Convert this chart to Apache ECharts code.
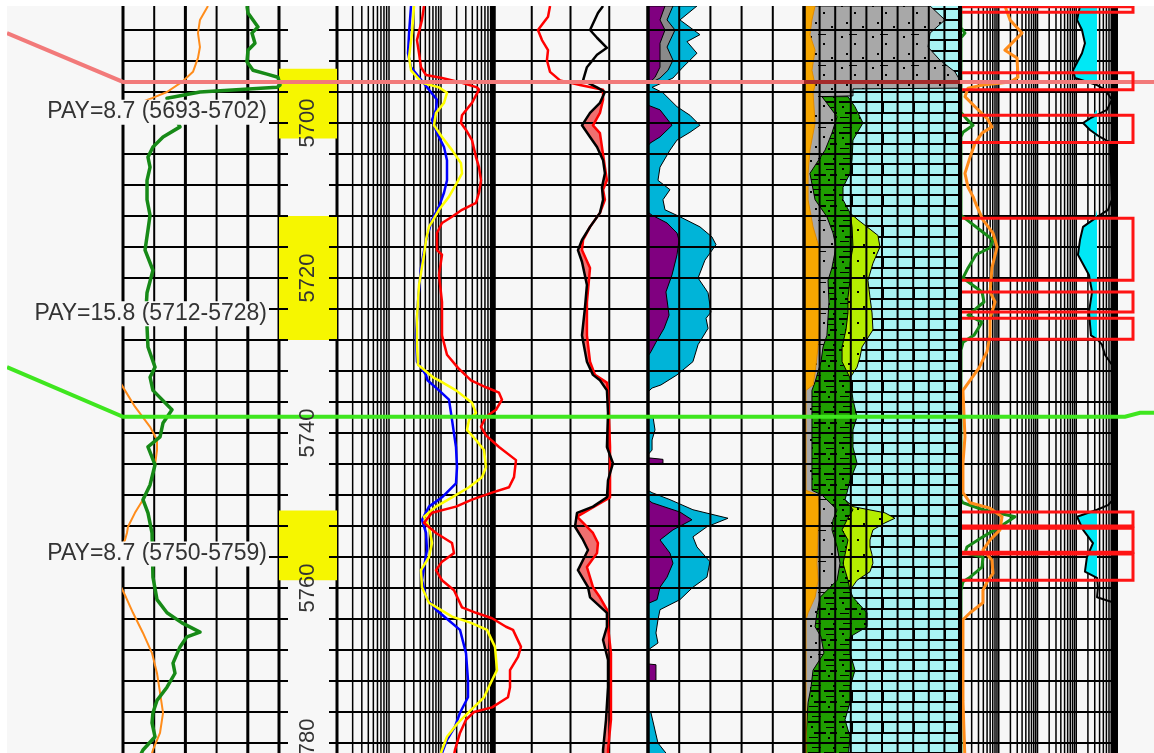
<!DOCTYPE html>
<html>
<head>
<meta charset="utf-8">
<title>Well log panel 5684-5782 ft</title>
<script src="https://cdn.jsdelivr.net/npm/echarts@6.0.0/dist/echarts.min.js"></script>
<style>
  html, body { margin: 0; padding: 0; background: #ffffff; }
  #chart { width: 1154px; height: 753px; }
</style>
</head>
<body>
<div id="chart"></div>
<script>
// ---------------- depth annotations ----------------
const depthLabels = [5700, 5720, 5740, 5760, 5780];
const payTops = [5693, 5712, 5750];
const payBottoms = [5702, 5728, 5759];
const payNet = [8.7, 15.8, 8.7];

// correlation tops: depth here, depth at left neighbour, depth at right neighbour
const topDepths = [5694.7, 5737.9];
const topLeftDepths = [5688.4, 5731.5];
const topRightDepths = [5694.7, 5737.4];
const topColors = ['#f27a7a', '#3fe61f'];
const topLithColors = ['#a52a2a', null];

// tested intervals shown in track 7
const testTops = [5685.0, 5693.5, 5699.0, 5712.3, 5721.8, 5725.2, 5750.2, 5752.3, 5755.6];
const testBottoms = [5685.7, 5695.7, 5702.5, 5720.3, 5724.4, 5727.9, 5752.0, 5755.4, 5759.0];

// ---------------- track 1 : gamma ray (API) and SP ----------------
const grCurve = [[5684.9,119.2],[5685.8,120.2],[5687.6,129.8],[5688.4,124.0],[5689.7,126.9],[5690.6,120.2],[5692.1,119.2],[5693.2,125.0],[5693.7,138.5],[5694.1,149.0],[5695.1,151.0],[5695.4,148.1],[5696.0,74.0],[5696.8,42.3],[5698.6,47.1],[5700.5,54.8],[5701.8,38.5],[5703.1,28.8],[5704.4,24.0],[5705.7,26.0],[5707.4,23.1],[5709.9,23.1],[5711.9,26.0],[5713.8,24.0],[5716.4,21.2],[5719.0,28.8],[5721.9,23.1],[5724.1,22.1],[5726.3,23.1],[5728.9,24.0],[5731.5,30.8],[5732.8,26.0],[5734.5,28.8],[5737.0,47.1],[5738.7,38.5],[5740.5,35.6],[5741.8,24.0],[5744.1,30.8],[5746.7,26.0],[5748.6,19.2],[5750.3,24.0],[5752.9,27.9],[5758.6,28.8],[5761.5,32.7],[5763.2,42.3],[5764.5,56.7],[5765.7,74.0],[5766.3,61.5],[5767.6,54.8],[5769.7,48.1],[5771.0,50.0],[5772.8,42.3],[5774.5,32.7],[5776.1,28.8],[5777.4,27.9],[5779.2,30.8],[5780.9,19.2],[5782.2,14.4]];
const spCurve = [[5684.9,81.7],[5686.7,74.0],[5688.4,72.1],[5690.2,74.0],[5691.6,72.1],[5693.4,67.3],[5694.7,56.7],[5696.0,42.3],[5696.8,27.9],[5697.5,13.5],[5698.3,0],[5699.5,-15],[5715,-30],[5730,-22],[5732.3,-8],[5734.5,1.9],[5736.6,11.5],[5739.2,26.0],[5740.9,32.7],[5742.2,32.7],[5744.1,30.8],[5746.7,26.0],[5748.6,19.2],[5750.3,11.5],[5752.1,4.8],[5752.9,3.8],[5753.8,1.9],[5755.7,-4.8],[5758,-10],[5759.6,-2.9],[5761.2,2.9],[5763.2,9.6],[5765.8,19.2],[5768.4,27.9],[5771.0,32.7],[5773.5,35.6],[5776.1,38.5],[5778.7,35.6],[5780.9,28.8],[5782.2,26.0]];

// ---------------- track 3 : resistivity (ohm-m, log) ----------------
const resDeep = [[5684.9,26.5],[5688.4,24.3],[5691.0,23.2],[5692.8,26.5],[5694.1,37.8],[5695.7,58.8],[5697.0,83.7],[5698.3,80.1],[5699.6,67.1],[5701.3,83.7],[5703.1,114.2],[5704.8,130.4],[5707.4,130.4],[5709.0,114.2],[5710.8,91.5],[5712.5,67.1],[5715.1,51.5],[5718.7,41.2],[5723.1,36.1],[5727.4,33.0],[5730.8,34.5],[5732.5,51.5],[5733.2,55.0],[5734.5,91.5],[5735.7,142.5],[5738.3,162.8],[5741.8,194.2],[5744.4,203.1],[5746.5,194.2],[5748.3,104.5],[5749.5,58.8],[5751.2,43.1],[5752.9,51.5],[5755.1,53.8],[5757.3,47.1],[5759.0,43.1],[5761.2,51.5],[5762.8,80.1],[5764.1,136.4],[5765.4,231.9],[5768.4,302.6],[5771.9,330.4],[5774.1,330.4],[5776.1,231.9],[5777.9,185.9],[5779.6,130.4],[5781.3,104.5],[5782.2,91.5]];
const resMedium = [[5684.9,30.3],[5688.4,27.7],[5691.5,24.3],[5693.2,26.5],[5694.8,43.1],[5695.4,91.5],[5696.1,130.4],[5697.4,114.2],[5698.7,80.1],[5700.3,73.3],[5701.8,104.5],[5703.5,162.8],[5705.2,242.5],[5706.5,253.4],[5707.7,203.1],[5709.5,142.5],[5711.2,91.5],[5713.4,58.8],[5715.1,51.5],[5717.0,47.1],[5720.9,37.8],[5725.2,34.5],[5728.6,34.5],[5731.2,36.1],[5732.9,73.3],[5733.2,91.5],[5734.5,194.2],[5736.1,394.5],[5737.4,471],[5738.3,345.4],[5739.6,316.2],[5740.9,471],[5742.2,671.4],[5744.4,732.8],[5745.7,614],[5747.0,345.4],[5748.3,162.8],[5749.5,80.1],[5750.8,47.1],[5752.1,58.8],[5754.2,67.1],[5756.0,58.8],[5757.7,41.2],[5759.9,43.1],[5761.9,58.8],[5763.7,162.8],[5764.5,377.6],[5765.4,767],[5767.6,1092],[5770.6,1194],[5771.9,957],[5774.1,671.4],[5776.1,330.4],[5777.4,212.3],[5779.2,130.4],[5780.9,104.5],[5782.2,91.5]];
const resShallow = [[5684.9,47.1],[5686.7,43.1],[5689.3,34.5],[5691.0,37.8],[5692.8,41.2],[5693.8,51.5],[5694.2,104.5],[5694.8,253.4],[5695.4,492],[5695.7,538],[5697.4,394.5],[5699.0,253.4],[5700.0,242.5],[5700.9,302.6],[5702.2,394.5],[5704.4,471],[5705.7,538],[5707.4,587.5],[5709.0,538],[5710.3,471],[5711.2,253.4],[5712.1,162.8],[5712.9,104.5],[5714.2,83.7],[5716.4,83.7],[5717.0,104.5],[5719.6,91.5],[5723.1,104.5],[5727.4,104.5],[5729.9,130.4],[5731.6,212.3],[5733.2,377.6],[5734.1,732.8],[5734.8,1304],[5735.7,1489],[5737.0,1142],[5737.9,732.8],[5739.2,587.5],[5740.3,732.8],[5741.8,1304],[5743.5,2768],[5745.7,2535],[5747.0,2032],[5747.7,957],[5748.6,394.5],[5749.5,194.2],[5750.3,67.1],[5751.6,47.1],[5752.9,80.1],[5754.2,162.8],[5755.5,177.8],[5756.6,104.5],[5757.7,80.1],[5759.0,104.5],[5760.3,177.8],[5762.5,253.4],[5763.2,471],[5763.9,957],[5765.0,1778],[5765.4,2425],[5767.6,3452],[5768.9,3027],[5770.6,2124],[5772.8,2124],[5774.1,1941],[5775.4,957],[5776.0,431.5],[5777.0,302.6],[5778.7,231.9],[5780.9,185.9],[5782.2,169.7]];

// ---------------- track 4 : porosity pair (crossover shaded) ----------------
const porRed = [[5684.9,36.8],[5686.3,35.5],[5688.0,29.0],[5689.3,31.6],[5690.6,35.5],[5691.9,34.8],[5693.4,36.8],[5694.5,43.2],[5695.1,56.1],[5695.7,71.0],[5697.0,71.0],[5698.7,69.0],[5700.3,64.5],[5701.3,69.0],[5703.1,70.3],[5705.7,72.2],[5707.4,73.5],[5708.6,71.0],[5709.9,72.2],[5711.6,69.0],[5713.4,62.6],[5715.1,58.1],[5716.4,57.4],[5718.7,62.6],[5723.1,60.6],[5727.4,60.6],[5730.8,62.6],[5732.5,65.8],[5733.5,73.5],[5734.5,74.2],[5741.8,75.5],[5748.3,75.5],[5750.8,54.2],[5752.9,64.5],[5754.2,67.7],[5755.5,67.1],[5757.3,60.6],[5759.9,64.5],[5761.2,69.0],[5762.8,73.5],[5765.0,74.2],[5768.4,76.1],[5777.0,76.1],[5780.9,74.2],[5782.2,74.2]];
const porBlack = [[5684.9,71.0],[5685.8,67.7],[5688.0,62.6],[5689.0,67.1],[5690.3,73.5],[5691.2,67.1],[5692.8,60.6],[5694.5,58.1],[5695.4,67.1],[5696.0,72.2],[5697.4,69.0],[5698.7,62.6],[5700.3,57.4],[5701.8,62.6],[5703.1,67.1],[5704.8,71.0],[5706.5,72.2],[5708.3,70.3],[5709.9,71.0],[5711.6,69.0],[5713.4,62.6],[5715.1,57.4],[5716.4,54.8],[5717.9,57.4],[5720.9,60.6],[5723.9,59.3],[5727.4,57.4],[5730.8,60.6],[5732.5,64.5],[5733.2,69.0],[5734.5,73.5],[5737.4,74.2],[5741.8,73.5],[5743.9,77.4],[5746.1,74.2],[5748.3,73.5],[5749.5,64.5],[5750.3,54.2],[5752.1,52.9],[5753.8,58.1],[5755.1,61.3],[5757.7,54.8],[5759.9,61.3],[5761.2,62.6],[5763.2,73.5],[5765.0,73.5],[5766.7,71.0],[5769.3,74.2],[5772.8,74.2],[5777.0,72.9],[5780.9,71.0],[5782.2,71.0]];

// ---------------- track 5 : fluid volumes (cumulative %) ----------------
const fluidCyan = [[5684.9,31.4],[5686.7,20.5],[5688.6,33.3],[5689.5,25.0],[5691.0,31.4],[5692.8,22.4],[5694.2,16.0],[5695.4,2.6],[5696.1,9.6],[5697.9,18.6],[5699.0,26.9],[5700.3,33.3],[5701.2,26.9],[5702.2,18.6],[5703.5,14.1],[5705.7,7.7],[5707.4,6.4],[5708.6,14.1],[5709.9,9.6],[5711.2,10.9],[5712.1,20.5],[5713.4,33.3],[5714.7,41.0],[5715.7,43.6],[5717.7,36.5],[5720.0,32.1],[5721.9,38.5],[5724.4,40.4],[5725.2,37.2],[5726.5,38.5],[5728.6,32.1],[5730.8,28.8],[5732.5,18.6],[5733.8,8.3],[5734.2,2.6],[5734.7,0],[5737.7,0],[5737.9,3.2],[5739.6,4.5],[5740.9,2.6],[5742.2,2.6],[5742.8,0],[5747.4,0],[5747.7,2.6],[5748.6,14.1],[5749.9,28.8],[5751.0,51.3],[5752.1,37.8],[5753.4,28.8],[5754.7,31.4],[5756.6,39.7],[5758.6,37.8],[5759.9,28.8],[5761.5,20.5],[5762.8,7.7],[5764.1,6.4],[5765.8,5.1],[5767.1,6.4],[5768.0,0],[5775.7,0],[5776.1,1.9],[5780.0,6.4],[5781.3,11.5],[5782.2,14.1]];
const fluidGray = [[5684.9,16.0],[5686.7,12.2],[5688.0,17.3],[5690.2,12.2],[5691.9,16.0],[5693.2,12.8],[5694.2,7.7],[5695.0,0]];
const fluidPurple = [[5684.9,10.9],[5686.7,7.7],[5688.0,10.9],[5689.7,7.7],[5692.8,7.7],[5694.1,4.5],[5695.0,0],[5697.7,0],[5698.3,7.7],[5700.3,15.4],[5701.8,7.7],[5702.6,1.3],[5703.0,0],[5711.5,0],[5711.9,2.6],[5712.9,12.2],[5714.2,18.6],[5715.1,19.9],[5717.0,18.6],[5719.6,15.4],[5721.8,11.5],[5724.8,13.5],[5726.5,10.3],[5728.3,5.1],[5729.5,1.9],[5730.1,0],[5743.2,0],[5743.4,9.6],[5743.9,9.6],[5744.0,0],[5748.6,0],[5749.0,2.6],[5750.2,20.5],[5751.2,28.2],[5752.5,16.0],[5753.8,7.7],[5755.5,14.1],[5756.8,16.0],[5758.6,12.2],[5759.9,7.7],[5761.5,5.8],[5762.0,0],[5769.8,0],[5769.9,5.1],[5771.9,5.1],[5772.1,0],[5782.2,0]];

// ---------------- track 6 : lithology (cumulative %) ----------------
const lithOrange = [[5684.9,7.1],[5686.7,5.1],[5688.6,3.8],[5690.6,7.1],[5693.2,5.1],[5695.1,7.1],[5696.1,5.8],[5700.0,7.1],[5703.5,3.8],[5706.5,2.6],[5709.9,2.6],[5713.4,5.8],[5716.0,9.6],[5720.3,9.6],[5724.5,10.3],[5728.9,9.0],[5732.3,7.1],[5733.8,5.8],[5734.5,1.3],[5747.4,1.3],[5748.0,9.0],[5750.3,10.3],[5752.5,9.0],[5756.8,8.3],[5759.0,9.0],[5761.2,7.1],[5763.2,2.6],[5764.1,1.3],[5782.2,1.3]];
const lithShale = [[5684.9,80.8],[5686.7,90.4],[5688.4,80.8],[5690.2,79.5],[5691.9,87.2],[5693.4,96.8],[5694.5,100],[5695.5,100],[5695.6,31.4],[5696.5,31.4],[5696.6,11.5],[5699.2,21.2],[5701.3,17.9],[5703.5,13.5],[5706.5,3.8],[5709.9,7.1],[5712.1,14.7],[5714.2,18.6],[5716.0,20.5],[5718.7,17.9],[5720.3,15.4],[5723.1,16.0],[5727.4,14.7],[5728.9,12.2],[5730.8,10.9],[5733.4,7.1],[5734.5,5.1],[5747.4,5.1],[5748.0,11.5],[5749.9,21.2],[5751.2,18.6],[5752.5,17.9],[5754.7,21.2],[5756.8,23.1],[5759.0,21.2],[5761.2,10.3],[5763.2,8.3],[5765.0,7.1],[5766.3,10.9],[5768.4,12.8],[5770.6,5.8],[5772.8,4.5],[5774.8,2.6],[5779.2,1.3],[5782.2,1.3]];
const lithDolomite = [[5696.6,28.2],[5697.9,32.7],[5700.0,37.8],[5702.2,31.4],[5704.8,30.8],[5706.5,29.5],[5708.3,25.0],[5709.9,25.0],[5711.6,29.5],[5713.4,30.8],[5716.0,31.4],[5718.1,29.5],[5720.3,29.5],[5722.5,28.2],[5724.5,28.2],[5726.7,26.9],[5728.9,24.4],[5730.8,24.4],[5732.9,29.5],[5735.7,31.4],[5737.9,34.0],[5739.6,31.4],[5741.8,31.4],[5743.9,34.0],[5746.1,29.5],[5747.7,27.6],[5748.6,26.3],[5749.9,31.4],[5751.2,27.6],[5752.5,24.4],[5753.8,28.2],[5755.7,26.3],[5756.8,25.0],[5759.0,28.2],[5760.3,29.5],[5761.2,31.4],[5762.2,35.9],[5763.2,40.4],[5765.0,40.4],[5766.3,29.5],[5768.4,29.5],[5770.6,32.7],[5772.8,29.5],[5774.8,29.5],[5777.0,26.3],[5779.2,29.5],[5782.2,28.2]];
const lithSandUpper = [[5711.6,29.5],[5712.5,34.6],[5713.4,40.4],[5714.5,47.4],[5716.0,48.7],[5718.1,44.2],[5720.3,41.0],[5722.5,42.3],[5724.5,43.6],[5726.7,44.2],[5728.9,37.2],[5730.2,35.9],[5731.5,34.0],[5732.9,29.5]];
const lithSandLower = [[5748.6,26.3],[5749.5,31.4],[5750.3,51.9],[5751.0,58.3],[5751.6,51.9],[5752.5,44.2],[5753.8,42.3],[5754.7,42.3],[5755.7,43.6],[5756.8,44.2],[5757.9,42.3],[5759.0,34.0],[5760.3,29.5]];

// ---------------- track 7 : curves and flagged volume ----------------
const t7Orange = [[5684.9,29.0],[5686.7,32.3],[5688.4,40.0],[5689.7,33.5],[5690.6,29.0],[5691.6,36.8],[5694.1,37.4],[5694.7,32.3],[5695.1,14.8],[5695.5,5.2],[5696.6,3.2],[5697.9,9.7],[5699.4,17.4],[5700.5,20.6],[5701.3,14.2],[5702.6,9.7],[5704.4,6.5],[5706.5,3.2],[5708.3,5.2],[5709.5,8.4],[5710.8,11.0],[5712.5,14.8],[5714.2,21.3],[5716.0,23.9],[5718.7,20.6],[5721.8,19.4],[5723.1,22.6],[5725.2,19.4],[5727.4,19.4],[5729.5,17.4],[5731.6,12.3],[5733.2,6.5],[5734.5,1.9],[5740.5,3.2],[5743.9,1.9],[5747.7,1.9],[5749.0,6.5],[5749.7,19.4],[5750.8,27.1],[5752.5,25.8],[5753.8,19.4],[5755.1,14.8],[5756.4,20.6],[5758.1,21.3],[5759.0,18.1],[5760.3,14.8],[5761.9,14.8],[5763.2,6.5],[5764.1,1.9],[5774.5,1.9],[5782.2,3.2]];
const t7Green = [[5684.9,0.6],[5687.7,0.6],[5688.4,3.2],[5689.0,0.6],[5698.6,0.6],[5699.4,3.9],[5700.3,8.4],[5701.2,1.9],[5701.8,0.6],[5711.9,0.6],[5712.5,4.5],[5713.8,12.9],[5715.1,21.3],[5716.1,19.4],[5717.0,10.3],[5718.7,5.2],[5720.0,1.9],[5721.8,14.2],[5723.1,15.5],[5724.8,5.2],[5725.7,14.2],[5727.4,9.0],[5728.3,1.9],[5729.3,0.6],[5748.6,0.6],[5749.0,1.9],[5749.9,14.8],[5750.8,35.5],[5752.1,25.8],[5753.4,14.8],[5754.7,4.5],[5755.5,3.2],[5756.0,14.8],[5757.3,14.2],[5758.6,6.5],[5759.2,1.9],[5760.3,0.6],[5782.2,0.6]];
const t7Black = [[5684.9,77.4],[5686.7,75.5],[5688.0,78.7],[5689.7,80.6],[5691.0,78.7],[5693.2,72.9],[5694.2,74.2],[5695.1,88.4],[5695.7,93.5],[5697.0,98.0],[5698.3,94.8],[5699.4,83.9],[5700.0,79.4],[5700.9,83.9],[5701.8,90.3],[5702.5,96.8],[5709.9,98.0],[5711.2,95.5],[5712.3,87.1],[5713.4,79.4],[5715.1,77.4],[5717.0,76.1],[5719.6,83.2],[5721.8,85.2],[5724.4,83.2],[5727.4,84.5],[5728.0,89.0],[5728.6,91.6],[5729.9,93.5],[5731.2,98.0],[5748.6,98.7],[5749.3,95.5],[5749.9,88.4],[5750.8,75.5],[5752.5,79.4],[5754.2,85.8],[5756.0,81.9],[5757.9,80.6],[5758.7,88.4],[5759.9,89.0],[5761.2,88.4],[5761.8,98.0],[5782.2,98.7]];
const t7Cutoff = 88.4;

// ---------------- layout ----------------
const W = 1154, H = 753;
const PANEL_LEFT = 7, PANEL_TOP = 6;
const EDGES = [123, 279, 337, 493, 648, 804, 960, 1115];
const PLOT_TOP = -1, PLOT_H = 775;
const DEPTH_MIN = 5684, DEPTH_MAX = 5784, GRID_STEP = 4;
const BG = '#f7f7f7';
const FONT = '"Liberation Sans", Arial, Helvetica, sans-serif';
const PAY_LABEL_LIFT = 3.4;     // label sits this many feet above the pay base
const TEST_OVERHANG = 18;       // test boxes run past the track edge (px)
const RES_TRACK_MAX = 1000;     // resistivity track spans 1-1000; curves may wrap past it
const RES_DECADE_PX = (EDGES[3] - EDGES[2]) / 3;

const X_AXES = [
  { gridIndex: 0, type: 'value', min: 0, max: 150 },
  { gridIndex: 1, type: 'value', min: 0, max: 1 },
  { gridIndex: 2, type: 'log', min: 1, max: 10000, logBase: 10 },
  { gridIndex: 3, type: 'value', min: 0, max: 100 },
  { gridIndex: 4, type: 'value', min: 0, max: 100 },
  { gridIndex: 5, type: 'value', min: 0, max: 100 },
  { gridIndex: 6, type: 'log', min: 1, max: 10000, logBase: 10 },
  { gridIndex: 6, type: 'value', min: 0, max: 100 }
];

const grids = [];
const yAxes = [];
for (let i = 0; i < 7; i++) {
  // the resistivity grid is one decade wider so overscale readings stay visible
  const width = i === 2 ? RES_DECADE_PX * 4 : EDGES[i + 1] - EDGES[i];
  grids.push({ left: EDGES[i], width: width, top: PLOT_TOP, height: PLOT_H,
    show: false, containLabel: false, outerBoundsMode: 'none' });
  yAxes.push({ gridIndex: i, type: 'value', min: DEPTH_MIN, max: DEPTH_MAX, inverse: true, show: false });
}

// ---------------- fill patterns ----------------
function makePattern(w, h, bg, draw) {
  const c = document.createElement('canvas');
  c.width = w; c.height = h;
  const ctx = c.getContext('2d');
  ctx.fillStyle = bg; ctx.fillRect(0, 0, w, h);
  ctx.fillStyle = '#000';
  draw(ctx);
  return { image: c, repeat: 'repeat' };
}
// limestone: bedding lines every third of a grid cell
const limePattern = makePattern(31, 31, '#a9f4f4', ctx => {
  ctx.fillRect(0, 8, 31, 2); ctx.fillRect(0, 19, 31, 2);
  ctx.fillRect(14, 10, 2, 9);
});
const dolPattern = makePattern(31, 31, '#1f9e00', ctx => {
  ctx.fillRect(2, 8, 11, 2); ctx.fillRect(18, 8, 10, 2);
  ctx.fillRect(8, 19, 12, 2); ctx.fillRect(24, 19, 7, 2);
  ctx.fillRect(0, 29, 10, 2); ctx.fillRect(14, 29, 12, 2);
  ctx.fillRect(6, 3, 9, 1); ctx.fillRect(20, 14, 8, 1); ctx.fillRect(3, 24, 9, 1);
  ctx.fillRect(5, 13, 2, 2); ctx.fillRect(22, 24, 2, 2); ctx.fillRect(27, 3, 2, 2);
});
const sandPattern = makePattern(31, 31, '#b4ee00', ctx => {
  ctx.fillRect(5, 4, 2, 2); ctx.fillRect(20, 12, 2, 2);
  ctx.fillRect(11, 22, 2, 2); ctx.fillRect(26, 27, 2, 2);
});
const shalePattern = makePattern(31, 31, '#a8a8a8', ctx => {
  ctx.fillRect(4, 5, 2, 2); ctx.fillRect(17, 12, 2, 2);
  ctx.fillRect(9, 22, 2, 2); ctx.fillRect(25, 26, 2, 2);
  ctx.fillRect(12, 3, 8, 1);
});

// ---------------- drawing helpers ----------------
function layer(xi, yi, z, build) {
  return {
    type: 'custom', coordinateSystem: 'cartesian2d', xAxisIndex: xi, yAxisIndex: yi,
    z: z, silent: true, animation: false, clip: false,
    data: [[X_AXES[xi].min, 5700]],
    renderItem: (params, api) => ({ type: 'group', children: build(api) })
  };
}
function hline(x1, x2, y, w) {
  return { type: 'line', shape: { x1: x1, y1: y, x2: x2, y2: y }, style: { stroke: '#000', lineWidth: w } };
}
function vline(x, y1, y2, w) {
  return { type: 'line', shape: { x1: x, y1: y1, x2: x, y2: y2 }, style: { stroke: '#000', lineWidth: w } };
}
function gridLines(xi, verticals, trackMax) {
  return api => {
    const ax = X_AXES[xi];
    const hMax = trackMax != null ? trackMax : ax.max;
    const p0 = api.coord([ax.min, DEPTH_MIN]);
    const p1 = api.coord([hMax, DEPTH_MAX]);
    const kids = [];
    for (let d = DEPTH_MIN; d <= DEPTH_MAX; d += GRID_STEP) {
      kids.push(hline(p0[0], p1[0], api.coord([ax.min, d])[1], 2));
    }
    verticals.forEach(([v, w]) => {
      kids.push(vline(api.coord([v, DEPTH_MIN])[0], p0[1], p1[1], w));
    });
    return kids;
  };
}
function linearLines(min, max, step, edgeL, edgeR, inner) {
  const out = [[min, edgeL]];
  for (let v = min + step; v < max - 1e-9; v += step) out.push([v, inner]);
  out.push([max, edgeR]);
  return out;
}
function logLines(decades, edgeL, edgeR) {
  const out = [[1, edgeL]];
  for (let e = 0; e < decades; e++) {
    const b = Math.pow(10, e);
    for (let k = 2; k <= 9; k++) out.push([k * b, 1.5]);
    if (e < decades - 1) out.push([10 * b, 1.5]);
  }
  out.push([Math.pow(10, decades), edgeR]);
  return out;
}
// polygon between the track's left edge and a boundary curve
function fromLeft(api, xi, pts, style) {
  const xMin = X_AXES[xi].min;
  const points = [api.coord([xMin, pts[0][0]])];
  pts.forEach(([d, v]) => points.push(api.coord([v, d])));
  points.push(api.coord([xMin, pts[pts.length - 1][0]]));
  return { type: 'polygon', shape: { points: points }, style: style };
}
// polygon between a boundary curve and the track's right edge
function toRight(api, xi, pts, style) {
  const xMax = X_AXES[xi].max;
  const points = [api.coord([xMax, pts[0][0]])];
  pts.forEach(([d, v]) => points.push(api.coord([v, d])));
  points.push(api.coord([xMax, pts[pts.length - 1][0]]));
  return { type: 'polygon', shape: { points: points }, style: style };
}
function curve(xi, yi, pts, color, width, z, clip) {
  return {
    type: 'line', xAxisIndex: xi, yAxisIndex: yi, z: z, silent: true, animation: false,
    clip: clip !== false, showSymbol: false, symbol: 'none',
    lineStyle: { color: color, width: width, join: 'round' },
    data: pts.map(([d, v]) => [v, d])
  };
}

const series = [];

// ----- track grids -----
series.push(layer(0, 0, 1, gridLines(0, [[0, 3], [30, 2], [60, 3], [90, 2], [120, 3], [150, 3]])));
series.push(layer(2, 2, 1, gridLines(2, logLines(3, 3, 5), RES_TRACK_MAX)));
series.push(layer(3, 3, 4, gridLines(3, linearLines(0, 100, 25, 5, 3, 2))));
series.push(layer(4, 4, 4, gridLines(4, linearLines(0, 100, 20, 3, 3, 2))));
series.push(layer(5, 5, 4, gridLines(5, linearLines(0, 100, 10, 3, 4, 2))));
series.push(layer(6, 6, 1, gridLines(6, logLines(4, 4, 6))));

// ----- depth track: pay boxes, ticks, depth numbers, pay labels -----
series.push(layer(1, 1, 2, api => payTops.map((t, i) => {
  const a = api.coord([0, t]), b = api.coord([1, payBottoms[i]]);
  return { type: 'rect', shape: { x: a[0], y: a[1], width: b[0] - a[0], height: b[1] - a[1] }, style: { fill: '#f6f600' } };
})));
series.push(layer(1, 1, 3, api => {
  const xl = api.coord([0, DEPTH_MIN])[0], xr = api.coord([1, DEPTH_MIN])[0];
  const kids = [];
  for (let d = DEPTH_MIN; d <= DEPTH_MAX; d += GRID_STEP) {
    const y = api.coord([0, d])[1];
    kids.push(hline(xl, xl + 9, y, 2), hline(xr - 8, xr, y, 2));
  }
  return kids;
}));
series.push(layer(1, 1, 9, api => depthLabels.map(d => {
  const p = api.coord([0.5, d]);
  return { type: 'text', x: p[0], y: p[1], rotation: Math.PI / 2,
    style: { text: String(d), fill: '#333', fontSize: 22, fontFamily: FONT, align: 'center', verticalAlign: 'middle' } };
})));
series.push(layer(1, 1, 9, api => payTops.map((t, i) => {
  const p = api.coord([0, payBottoms[i] - PAY_LABEL_LIFT]);
  return { type: 'text', x: p[0] - 10, y: p[1],
    style: { text: 'PAY=' + payNet[i] + ' (' + t + '-' + payBottoms[i] + ')', fill: '#333',
      fontSize: 23, fontFamily: FONT, align: 'right', verticalAlign: 'middle',
      backgroundColor: BG, padding: [1, 2, 1, 3] } };
})));

// ----- track 1 curves -----
series.push(curve(0, 0, spCurve, '#ff8c1a', 2, 3));
series.push(curve(0, 0, grCurve, '#178a17', 3.5, 3));

// ----- track 3 curves (overscale readings run into the next track) -----
series.push(curve(2, 2, resDeep, '#0000ff', 2.5, 5));
series.push(curve(2, 2, resMedium, '#ffff00', 2.5, 5));
series.push(curve(2, 2, resShallow, '#ff0000', 2.5, 5));

// ----- track 4: crossover shading, then curves -----
series.push(layer(3, 3, 2, api => [
  toRight(api, 3, porBlack, { fill: '#f07070' }),
  toRight(api, 3, porRed, { fill: BG })
]));
series.push(curve(3, 3, porRed, '#ff0000', 2.5, 5));
series.push(curve(3, 3, porBlack, '#000000', 2.5, 5));

// ----- track 5 fluid fills -----
series.push(layer(4, 4, 2, api => [
  fromLeft(api, 4, fluidCyan, { fill: '#00b4d8', stroke: '#000', lineWidth: 1 }),
  fromLeft(api, 4, fluidGray, { fill: '#8a8a8a', stroke: '#000', lineWidth: 1 }),
  fromLeft(api, 4, fluidPurple, { fill: '#800080', stroke: '#000', lineWidth: 1 })
]));

// ----- track 6 lithology fills -----
series.push(layer(5, 5, 2, api => {
  const a = api.coord([0, DEPTH_MIN]), b = api.coord([100, DEPTH_MAX]);
  return [
    { type: 'rect', shape: { x: a[0], y: a[1], width: b[0] - a[0], height: b[1] - a[1] }, style: { fill: limePattern } },
    fromLeft(api, 5, lithSandUpper, { fill: sandPattern, stroke: '#000', lineWidth: 1 }),
    fromLeft(api, 5, lithSandLower, { fill: sandPattern, stroke: '#000', lineWidth: 1 }),
    fromLeft(api, 5, lithDolomite, { fill: dolPattern, stroke: '#000', lineWidth: 1 }),
    fromLeft(api, 5, lithShale, { fill: shalePattern, stroke: '#000', lineWidth: 1 }),
    fromLeft(api, 5, lithOrange, { fill: '#f6a600', stroke: '#e08a00', lineWidth: 1 })
  ];
}));

// ----- track 7: flagged volume, curves -----
series.push(layer(7, 6, 2, api => {
  const pts = t7Black.map(([d, v]) => api.coord([Math.min(v, t7Cutoff), d]));
  pts.push(api.coord([t7Cutoff, t7Black[t7Black.length - 1][0]]));
  pts.push(api.coord([t7Cutoff, t7Black[0][0]]));
  return [{ type: 'polygon', shape: { points: pts }, style: { fill: '#00e8f5' } }];
}));
series.push(curve(7, 6, t7Green, '#178a17', 3, 3));
series.push(curve(7, 6, t7Orange, '#ff8c1a', 3, 3));
series.push(curve(7, 6, t7Black, '#000000', 2, 3));

// ----- correlation tops across the panel -----
series.push(layer(0, 0, 6, api => {
  const kids = [];
  topDepths.forEach((d, i) => {
    const y = api.coord([0, d])[1];
    const yl = api.coord([0, topLeftDepths[i]])[1];
    const yr = api.coord([0, topRightDepths[i]])[1];
    kids.push({ type: 'polyline', shape: { points: [
      [PANEL_LEFT, yl], [EDGES[0], y], [EDGES[7] + 10, y], [EDGES[7] + 25, yr], [W, yr]
    ] }, style: { stroke: topColors[i], lineWidth: 4, fill: 'none' } });
    if (topLithColors[i]) {
      kids.push({ type: 'line', shape: { x1: EDGES[5], y1: y, x2: EDGES[6], y2: y },
        style: { stroke: topLithColors[i], lineWidth: 4 } });
    }
  });
  return kids;
}));

// ----- tested intervals -----
series.push(layer(7, 6, 7, api => testTops.map((t, i) => {
  const a = api.coord([0, t]), b = api.coord([100, testBottoms[i]]);
  const xl = a[0] + 2, xr = b[0] + TEST_OVERHANG;
  return { type: 'polyline', shape: { points: [[xl, a[1]], [xr, a[1]], [xr, b[1]], [xl, b[1]]] },
    style: { stroke: '#ff1414', lineWidth: 3, fill: 'none' } };
})));

const option = {
  backgroundColor: BG,
  animation: false,
  grid: grids,
  xAxis: X_AXES.map(a => Object.assign({ show: false }, a)),
  yAxis: yAxes,
  series: series,
  graphic: [
    { type: 'rect', shape: { x: 0, y: 0, width: W, height: PANEL_TOP }, style: { fill: '#ffffff' }, z: 100, silent: true },
    { type: 'rect', shape: { x: 0, y: 0, width: PANEL_LEFT, height: H }, style: { fill: '#ffffff' }, z: 100, silent: true }
  ]
};

const chart = echarts.init(document.getElementById('chart'), null, { renderer: 'canvas' });
chart.setOption(option);
</script>
</body>
</html>
